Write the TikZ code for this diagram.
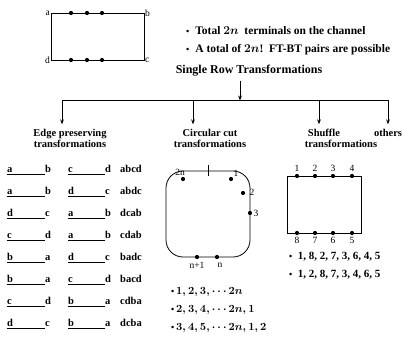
\documentclass[tikz,border=0pt]{standalone}
\usepackage{amsmath}
\usepackage{fontspec}
\setmainfont{Liberation Serif}
\usetikzlibrary{arrows.meta,positioning}

\begin{document}
\begin{tikzpicture}[x=1pt, y=-1pt,
    font=\bfseries\fontsize{10.5}{10.5}\selectfont,
    lbl/.style={inner sep=1pt, font=\fontsize{9.5}{9.5}\selectfont},
    term/.style={circle, fill=black, inner sep=0pt, minimum size=4.2pt},
    hdr/.style={align=center, inner sep=0pt},
    item/.style={anchor=base west, inner sep=0pt},
    arr/.style={-{Stealth[length=5pt,width=3.8pt]}, line width=0.8pt}
  ]
  \useasboundingbox (0,0) rectangle (405,337);

  % the channel
  \coordinate (ca) at (51,13);
  \coordinate (cc) at (144,60);
  \draw[line width=0.8pt] (ca) rectangle (cc);
  \node[lbl, left=0pt of ca] (la) {a};
  \node[lbl, right=0pt of ca -| cc] (lb) {b};
  \node[lbl, left=0pt of ca |- cc] (ld) {d};
  \node[lbl, right=0pt of cc] (lc) {c};
  \foreach \x in {71,87,102} {
    \node[term] (t\x) at (\x,13) {};
    \node[term] (u\x) at (\x,60) {};
  }

  \begin{scope}[font=\bfseries\fontsize{11.5}{11.5}\selectfont]
    \node[item] (f1) at (186,35) {{\small\textbullet}\hspace{6pt}Total $\boldsymbol{2n}$\ \ terminals on the channel};
    \node[item] (f2) at (186,53) {{\small\textbullet}\hspace{6pt}A total of $\boldsymbol{2n}$!\ \ FT-BT pairs are possible};
  \end{scope}

  % tree
  \node[hdr, font=\bfseries\fontsize{12}{12}\selectfont] (srt) at (249,71) {Single Row Transformations};
  \coordinate (hub) at (240,100.5);
  \coordinate (b1) at (62,100.5);
  \coordinate (b2) at (193,100.5);
  \coordinate (b3) at (319,100.5);
  \coordinate (b4) at (388,100.5);
  \draw[arr] (srt.south -| hub) ++(0,4) -- (hub);
  \draw[line width=0.8pt] (b1) -- (b4);

  \node[hdr] (edge) at (70,138.5) {Edge preserving\\transformations};
  \node[hdr] (circ) at (210,138.5) {Circular cut\\transformations};
  \node[hdr] (shuf) at (341,138.5) {Shuffle\hspace*{34pt}\\transformations};
  \node[hdr, anchor=north] (oth) at (edge.north -| b4) {others};
  \foreach \b/\n in {b1/edge, b2/circ, b3/shuf, b4/oth}
    \draw[arr] (\b) -- ([yshift=5pt]\b |- \n.north);

  % edge preserving
  \foreach \p/\q/\r/\s/\w [count=\i] in {a/b/c/d/abcd, a/b/d/c/abdc, d/c/a/b/dcab,
      c/d/a/b/cdab, b/a/d/c/badc, b/a/c/d/bacd, c/d/b/a/cdba, d/c/b/a/dcba} {
    \pgfmathsetmacro\yy{172+22*(\i-1)}
    \node[item] (p\i) at (7,\yy) {\p};
    \node[item] (q\i) at (45,\yy) {\q};
    \node[item] (r\i) at (68,\yy) {\r};
    \node[item] (s\i) at (105,\yy) {\s};
    \node[item] (w\i) at (120,\yy) {\w};
    \draw ([yshift=-2pt]p\i.base west) -- ([yshift=-2pt]q\i.base west);
    \draw ([yshift=-2pt]r\i.base west) -- ([yshift=-2pt]s\i.base west);
  }

  % circular cut
  \draw[line width=0.8pt, rounded corners=17pt] (166,171) rectangle (250,257);
  \coordinate (cut) at (208,171);
  \draw[line width=0.8pt] ([yshift=6pt]cut) -- ([yshift=-5pt]cut);
  \node[term] (k1) at (231,179) {};
  \node[term] (k2) at (243,193) {};
  \node[term] (k3) at (250,213) {};
  \node[term] (k2n) at (183,179) {};
  \node[term] (kn1) at (197,257) {};
  \node[term] (kn) at (217,257) {};
  \node[lbl] (m1) at (236,173) {1};
  \node[lbl] (m2) at (252,192) {2};
  \node[lbl] (m3) at (256,213) {3};
  \node[lbl] (m2n) at (180,172) {2n};
  \node[lbl] (mn1) at (197,265) {n+1};
  \node[lbl] (mn) at (220,265) {n};

  \begin{scope}[font=\bfseries\fontsize{11}{11}\selectfont]
    \node[item] (g1) at (171,294) {{\small\textbullet}\,$\boldsymbol{1,2,3,\cdots2n}$};
    \node[item] (g2) at (171,312) {{\small\textbullet}\,$\boldsymbol{2,3,4,\cdots2n,1}$};
    \node[item] (g3) at (171,330) {{\small\textbullet}\,$\boldsymbol{3,4,5,\cdots2n,1,2}$};
  \end{scope}

  % shuffle
  \draw[line width=0.8pt] (287,176) rectangle (361,233);
  \foreach \x/\t/\u in {297/1/8, 315/2/7, 333/3/6, 352/4/5} {
    \node[term] (h\t) at (\x,176) {};
    \node[term] (h\u) at (\x,233) {};
    \node[lbl, above=1pt of h\t] (v\t) {\t};
    \node[lbl, below=1pt of h\u] (v\u) {\u};
  }
  \node[item, font=\bfseries\fontsize{11}{11}\selectfont] (e1) at (289,259) {{\small\textbullet}\ \ 1, 8, 2, 7, 3, 6, 4, 5};
  \node[item, font=\bfseries\fontsize{11}{11}\selectfont] (e2) at (289,277) {{\small\textbullet}\ \ 1, 2, 8, 7, 3, 4, 6, 5};
\end{tikzpicture}
\end{document}
